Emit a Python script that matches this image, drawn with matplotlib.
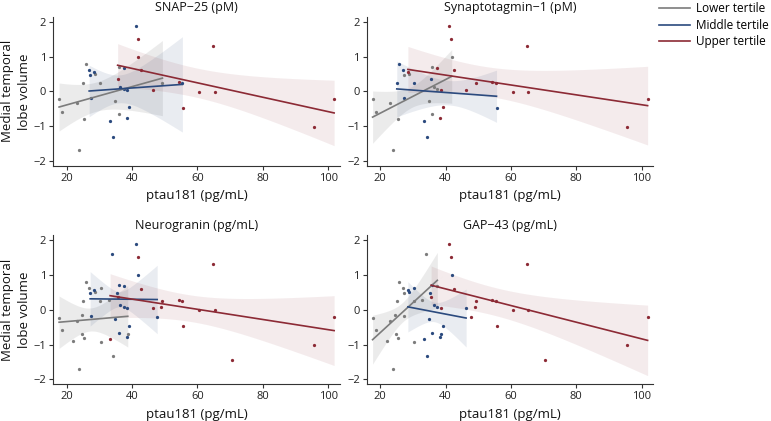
import numpy as np
import matplotlib
matplotlib.use("Agg")
import matplotlib.pyplot as plt
from matplotlib.lines import Line2D

plt.rcParams['font.family'] = ['Open Sans', 'DejaVu Sans']

# ptau181 (pg/mL) and medial temporal lobe volume, one entry per participant
ptau = [17.7, 18.7, 22.1, 23.1, 23.8, 24.7, 24.8, 25.1, 25.4, 25.9,
        26.9, 27.2, 27.4, 28.5, 28.8, 30.3, 30.5, 30.5, 32.9, 33.3,
        33.9, 34.3, 34.9, 35.4, 35.6, 35.9, 35.9, 36.4, 37.5, 37.5,
        38.5, 38.4, 38.7, 39.2, 41.1, 41.7, 41.9, 42.7, 46.3, 47.7,
        48.9, 49.3, 54.3, 55.4, 55.6, 60.6, 64.9, 65.3, 70.5, 95.5,
        101.8]
mtl = [-0.23, -0.59, -0.90, -0.33, -1.69, -0.16, -0.69, 0.24, -0.80, 0.78,
       0.62, 0.48, -0.19, 0.57, 0.51, 0.24, -0.93, 0.62, 0.27, -0.85,
       1.58, -1.32, -0.28, 0.49, 0.35, 0.70, -0.66, 0.12, 0.68, 0.07,
       0.04, -0.77, -0.71, -0.46, 1.87, 1.51, 1.00, 0.60, 0.04, -0.20,
       0.07, 0.24, 0.27, 0.25, -0.47, -0.01, 1.30, -0.02, -1.44, -1.01,
       -0.22]

# tertile of each participant for each marker (L/M/U, '-' = not measured)
tert_snap = "LL-LL--LLL" "MMMMLL---M" "-ML-ULLMMM" "MM-MMUUUU-" "-LUMUUUU-U" "U"
tert_syt = "LL-LL--MLM" "MLMULM---M" "-ML-MLLLUL" "UU-UUULUU-" "-UUUMUUU-U" "U"
tert_ng = "LLLLLLLLLL" "LMMMLLLLLU" "MLMMUMMMMM" "MMLMMUMUUM" "UUUUUUUUUU" "U"
tert_gap = "LLLLLLLLLL" "LLLMMLLMLM" "LMMMUMMMLM" "UMMMUUMUMU" "UUUUUUUUUU" "U"

titles = ["SNAP\u221225 (pM)", "Synaptotagmin\u22121 (pM)",
          "Neurogranin (pg/mL)", "GAP\u221243 (pg/mL)"]

# fitted line (y at first / last x) and CI half width (start, narrowest, end)
fit_snap = {"L": (-0.45, 0.38, 0.69, 0.42, 1.08),
            "M": (0.01, 0.20, 0.74, 0.40, 1.37),
            "U": (0.75, -0.62, 0.62, 0.42, 0.94)}
fit_syt = {"L": (-0.74, 0.43, 0.75, 0.30, 0.77),
           "M": (0.07, -0.14, 0.80, 0.35, 0.75),
           "U": (0.63, -0.41, 0.66, 0.42, 1.13)}
fit_ng = {"L": (-0.36, -0.19, 0.75, 0.33, 0.88),
          "M": (0.31, 0.29, 0.78, 0.22, 0.98),
          "U": (0.40, -0.60, 0.63, 0.38, 1.00)}
fit_gap = {"L": (-0.86, 0.84, 0.70, 0.28, 0.80),
           "M": (0.08, -0.24, 0.72, 0.28, 0.83),
           "U": (0.70, -0.88, 0.55, 0.40, 1.01)}

tertile_names = {"L": "Lower tertile", "M": "Middle tertile", "U": "Upper tertile"}
colors = {"L": "#7c7c7c", "M": "#2b4a7e", "U": "#8c2a35"}
band_alpha = {"L": 0.15, "M": 0.1, "U": 0.09}


def halfwidth(x, x1, x2, h1, h0, h2):
    # hyperbolic confidence band through the three read widths
    d1 = max(h1 ** 2 - h0 ** 2, 1e-6)
    d2 = max(h2 ** 2 - h0 ** 2, 1e-6)
    r = np.sqrt(d1 / d2)
    xc = (x1 + r * x2) / (1 + r)
    k = d1 / (xc - x1) ** 2
    return np.sqrt(h0 ** 2 + k * (x - xc) ** 2)


def panel(ax, tert, fits, title, ylab):
    xs = np.array(ptau)
    ys = np.array(mtl)
    codes = np.array(list(tert))
    for t in "LMU":
        sel = codes == t
        ax.scatter(xs[sel], ys[sel], s=5.5, color=colors[t], lw=0, zorder=2)
        x1, x2 = xs[sel].min(), xs[sel].max()
        y1, y2, h1, h0, h2 = fits[t]
        xx = np.linspace(x1, x2, 80)
        yy = y1 + (y2 - y1) * (xx - x1) / (x2 - x1)
        hw = halfwidth(xx, x1, x2, h1, h0, h2)
        ax.fill_between(xx, yy - hw, yy + hw, color=colors[t],
                        alpha=band_alpha[t], lw=0, zorder=1)
        ax.plot(xx, yy, color=colors[t], lw=1.2, zorder=3)

    ax.set_xlim(15.9, 103.6)
    ax.set_ylim(-2.14, 2.14)
    ax.set_xticks([20, 40, 60, 80, 100])
    ax.set_yticks([-2, -1, 0, 1, 2])
    ax.set_yticklabels(["\u22122", "\u22121", "0", "1", "2"])
    for s in ["top", "right"]:
        ax.spines[s].set_visible(False)
    for s in ["left", "bottom"]:
        ax.spines[s].set_color("#333333")
        ax.spines[s].set_linewidth(0.8)
    ax.tick_params(length=3, width=0.8, color="#333333", labelsize=8,
                   labelcolor="#222222", pad=2)
    ax.set_title(title, fontsize=9, pad=4, color="#111111")
    ax.set_xlabel("ptau181 (pg/mL)", fontsize=9.5, labelpad=4, color="#111111")
    if ylab:
        ax.set_ylabel("Medial temporal\nlobe volume", fontsize=9.5,
                      labelpad=2, color="#111111", linespacing=1.35)


fig = plt.figure(figsize=(7.71, 4.21), dpi=100)

pos = [[0.069, 0.606, 0.372, 0.354], [0.4756, 0.606, 0.372, 0.354],
       [0.069, 0.087, 0.372, 0.355], [0.4756, 0.087, 0.372, 0.355]]
terts = [tert_snap, tert_syt, tert_ng, tert_gap]
fits = [fit_snap, fit_syt, fit_ng, fit_gap]

for i in range(4):
    ax = fig.add_axes(pos[i])
    panel(ax, terts[i], fits[i], titles[i], i % 2 == 0)

handles = [Line2D([], [], color=colors[t], lw=1.2) for t in "LMU"]
fig.legend(handles, [tertile_names[t] for t in "LMU"], loc="upper left",
           bbox_to_anchor=(0.855, 0.995), frameon=False, fontsize=8.5,
           handlelength=2.6, handletextpad=0.5, labelspacing=0.3,
           borderpad=0, borderaxespad=0)

fig.savefig("out.png", dpi=100)
